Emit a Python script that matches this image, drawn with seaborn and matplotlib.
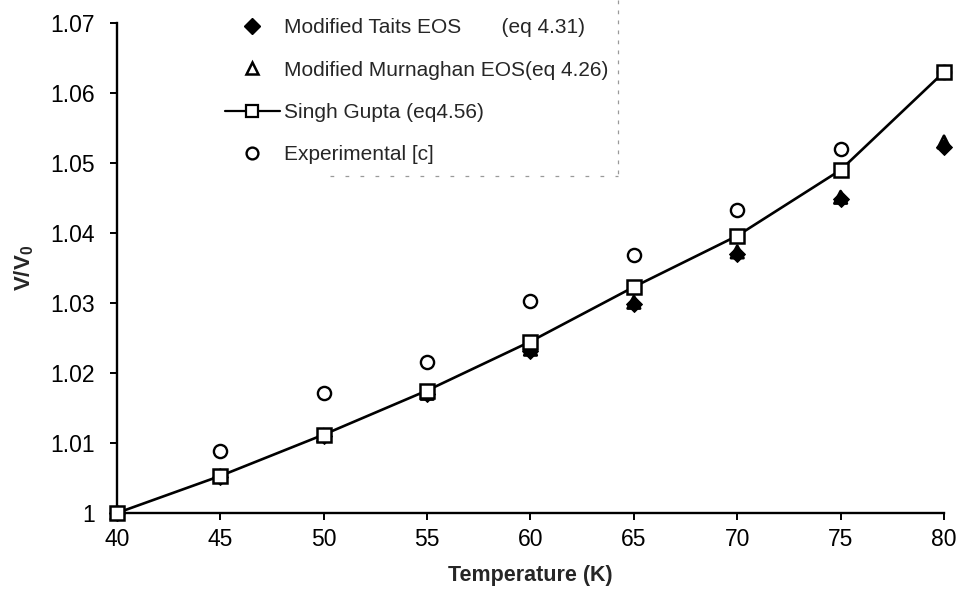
import matplotlib
matplotlib.use("Agg")
import matplotlib.pyplot as plt
import seaborn as sns
import pandas as pd
from matplotlib.lines import Line2D

# Temperature (K) and relative volume V/V0 for each model
temperature = [40, 45, 50, 55, 60, 65, 70, 75, 80]
tait = [1.0000, 1.0052, 1.0110, 1.0170, 1.0232, 1.0299, 1.0370, 1.0449, 1.0523]
murnaghan = [1.0000, 1.0053, 1.0111, 1.0171, 1.0234, 1.0301, 1.0373, 1.0451, 1.0530]
singh_gupta = [1.0000, 1.0053, 1.0112, 1.0175, 1.0245, 1.0323, 1.0396, 1.0490, 1.0630]
experimental = [1.0000, 1.0088, 1.0172, 1.0216, 1.0303, 1.0368, 1.0433, 1.0520, 1.0630]

x_ticks = [40, 45, 50, 55, 60, 65, 70, 75, 80]
y_ticks = [1.00, 1.01, 1.02, 1.03, 1.04, 1.05, 1.06, 1.07]
y_ticklabels = ["1", "1.01", "1.02", "1.03", "1.04", "1.05", "1.06", "1.07"]

labels = ["Modified Taits EOS       (eq 4.31)",
          "Modified Murnaghan EOS(eq 4.26)",
          "Singh Gupta (eq4.56)",
          "Experimental [c]"]

sns.set_theme(style="white")
plt.rcParams["font.family"] = ["Liberation Sans", "DejaVu Sans"]
plt.rcParams["mathtext.fontset"] = "custom"
plt.rcParams["mathtext.rm"] = "Liberation Sans"
plt.rcParams["mathtext.bf"] = "Liberation Sans:bold"

df = pd.DataFrame({
    "T": temperature,
    "tait": tait,
    "murnaghan": murnaghan,
    "singh": singh_gupta,
    "exp": experimental,
})

W, H = 962, 599
fig = plt.figure(figsize=(W / 100, H / 100), dpi=100)
ax_left, ax_right, ax_top, ax_bottom = 117, 944, 23, 513
ax = fig.add_axes([ax_left / W, 1 - ax_bottom / H,
                   (ax_right - ax_left) / W, (ax_bottom - ax_top) / H])

sns.scatterplot(data=df, x="T", y="exp", ax=ax, marker="o", s=90,
                facecolor="white", edgecolor="black", linewidth=1.7,
                zorder=3, clip_on=False)
sns.scatterplot(data=df, x="T", y="tait", ax=ax, marker="D", s=65,
                color="black", edgecolor="black", linewidth=0.8,
                zorder=4, clip_on=False)
sns.scatterplot(data=df, x="T", y="murnaghan", ax=ax, marker="^", s=80,
                facecolor="none", edgecolor="black", linewidth=2.0,
                zorder=4, clip_on=False)
sns.lineplot(data=df, x="T", y="singh", ax=ax, color="black", linewidth=1.9,
             marker="s", markersize=10, markerfacecolor="white",
             markeredgecolor="black", markeredgewidth=1.8, zorder=5,
             clip_on=False)

ax.set_xlim(40, 80)
ax.set_ylim(1.0, 1.07)
ax.set_xticks(x_ticks)
ax.set_xticklabels([str(t) for t in x_ticks])
ax.set_yticks(y_ticks)
ax.set_yticklabels(y_ticklabels)
ax.tick_params(axis="both", direction="out", length=5, width=1.4,
               labelsize=16.5, colors="black")
ax.tick_params(axis="y", left=True, pad=11)
ax.tick_params(axis="x", bottom=True, pad=6)

for side in ["top", "right"]:
    ax.spines[side].set_visible(False)
for side in ["left", "bottom"]:
    ax.spines[side].set_color("black")
    ax.spines[side].set_linewidth(1.7)

ax.set_xlabel("Temperature (K)", fontsize=15.5, fontweight="bold", labelpad=10)
ax.set_ylabel(r"$\mathbf{V/V_0}$", fontsize=16, labelpad=10)

handles = [
    Line2D([], [], linestyle="none", marker="D", markersize=8.5,
           color="black"),
    Line2D([], [], linestyle="none", marker="^", markersize=8.5,
           markerfacecolor="white", markeredgecolor="black", markeredgewidth=1.8),
    Line2D([], [], color="black", linewidth=1.6, marker="s", markersize=9,
           markerfacecolor="white", markeredgecolor="black", markeredgewidth=1.6),
    Line2D([], [], linestyle="none", marker="o", markersize=8.5,
           markerfacecolor="white", markeredgecolor="black", markeredgewidth=1.7),
]
leg = ax.legend(handles, labels, loc="upper left",
                bbox_to_anchor=(217 / W, 1 - 10 / H),
                bbox_transform=fig.transFigure,
                frameon=False, fontsize=15, handlelength=2.6,
                handletextpad=0.2, labelspacing=1.12, borderaxespad=0,
                borderpad=0.4)

# faint dashed edges around the key
fig.add_artist(Line2D([618 / W, 618 / W], [1.0, 1 - 176 / H],
                      transform=fig.transFigure, color="#9a9a9a",
                      linewidth=0.9, linestyle=(0, (3, 5))))
fig.add_artist(Line2D([330 / W, 618 / W], [1 - 176 / H, 1 - 176 / H],
                      transform=fig.transFigure, color="#9a9a9a",
                      linewidth=0.9, linestyle=(0, (3, 9))))

fig.savefig("out.png", dpi=100)
